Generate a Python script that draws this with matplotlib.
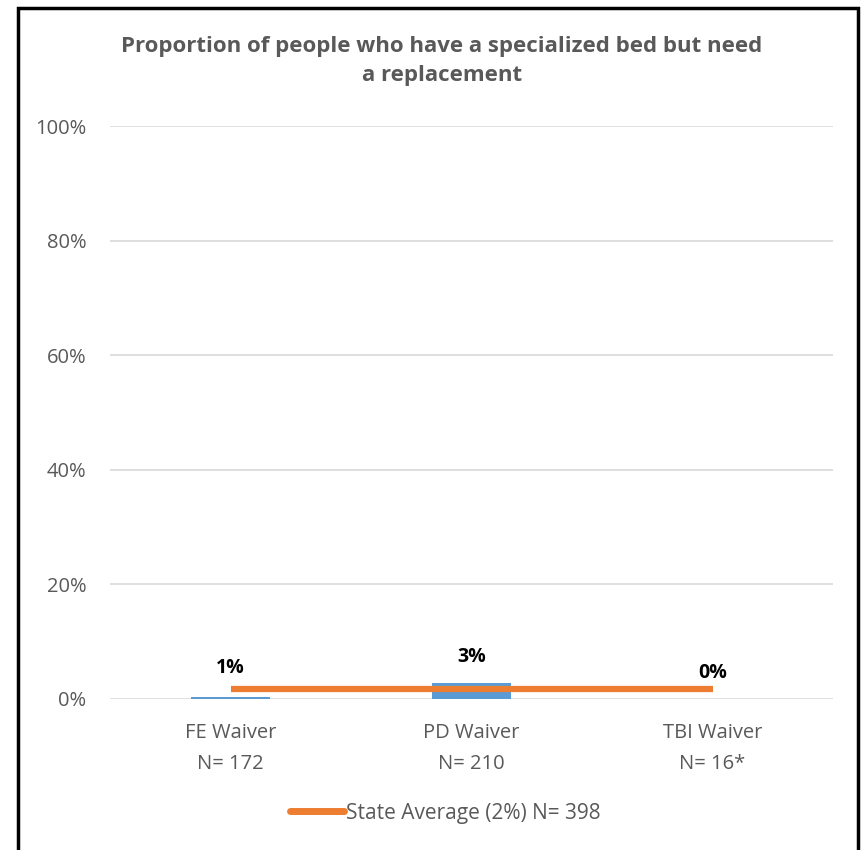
import matplotlib
matplotlib.use("Agg")
import matplotlib.pyplot as plt
from matplotlib.patches import Rectangle
from matplotlib.lines import Line2D

categories = ["FE Waiver\nN= 172", "PD Waiver\nN= 210", "TBI Waiver\nN= 16*"]
values = [0.4, 2.8, 0.0]
labels = ["1%", "3%", "0%"]
state_avg = [1.7, 1.7, 1.7]
legend_label = "State Average (2%) N= 398"
title = "Proportion of people who have a specialized bed but need\na replacement"

plt.rcParams['font.family'] = ['Open Sans', 'DejaVu Sans']
grey = "#595959"

fig = plt.figure(figsize=(8.65, 8.5), dpi=100)
ax = fig.add_axes([110/865, 1-699/850, (833-110)/865, (699-126)/850])

x = list(range(len(categories)))
ax.bar(x, values, width=0.33, color="#5B9BD5", zorder=2)
ax.plot(x, state_avg, color="#ED7D31", lw=4.5, zorder=3, solid_capstyle='butt')

label_y = [5.4, 7.3, 4.5]
for xi, ly, l in zip(x, label_y, labels):
    ax.text(xi, ly, l, ha="center", va="center", fontsize=14,
            fontweight="bold", color="black")

ax.set_xlim(-0.5, 2.5)
ax.set_ylim(0, 100)
ax.set_yticks([0, 20, 40, 60, 80, 100])
ax.set_yticklabels(["0%", "20%", "40%", "60%", "80%", "100%"])
ax.set_xticks(x)
ax.set_xticklabels(categories, linespacing=1.75)
ax.tick_params(axis="both", length=0, labelsize=14.5, colors=grey)
ax.tick_params(axis="y", pad=17)
ax.tick_params(axis="x", pad=17)
ax.grid(axis="y", color="#D9D9D9", lw=1.2, zorder=0)
ax.set_axisbelow(True)
for s in ax.spines.values():
    s.set_visible(False)

fig.text(442/865, 1-61/850, title, ha="center", va="center", fontsize=16,
         fontweight="bold", color=grey, linespacing=1.55)

handle = Line2D([], [], color="#ED7D31", lw=5, solid_capstyle="round")
fig.legend([handle], [legend_label], loc="center", bbox_to_anchor=(445/865, 1-813/850),
           frameon=False, fontsize=15, labelcolor=grey, handlelength=2.6,
           handletextpad=0.1)

# outer black frame
fig.patches.append(Rectangle((18/865, -0.01), (858-18)/865, 1-8/850+0.01,
                             transform=fig.transFigure, fill=False,
                             edgecolor="black", lw=2.5))

fig.savefig("out.png", dpi=100, facecolor="white")
